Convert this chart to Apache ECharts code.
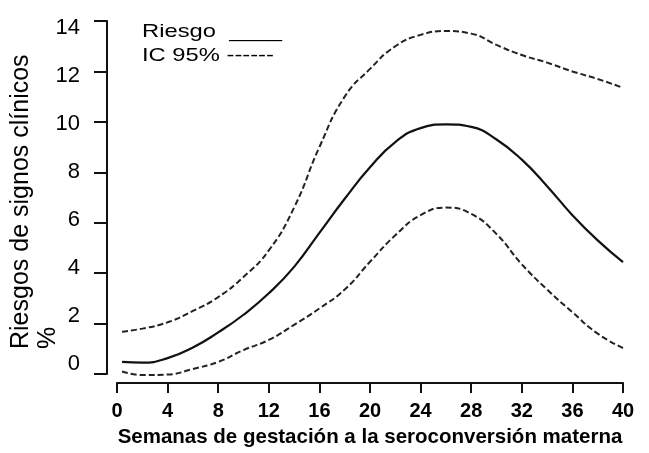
<!DOCTYPE html>
<html>
<head>
<meta charset="utf-8">
<script src="https://cdn.jsdelivr.net/npm/echarts@6/dist/echarts.min.js"></script>
<style>
html,body{margin:0;padding:0;background:#fff;}
#chart{width:649px;height:453px;}
</style>
</head>
<body>
<div id="chart"></div>
<script>
// Weeks of gestation at maternal seroconversion
const weeks = [0.4, 2, 4, 6, 8, 10, 12, 14, 16, 18, 20, 22, 24, 26, 28, 30, 32, 34, 36, 38, 40];
// Risk of clinical signs (%)
const riesgo = [0.48, 0.45, 0.63, 1.05, 1.65, 2.35, 3.2, 4.25, 5.6, 6.95, 8.2, 9.2, 9.75, 9.9, 9.8, 9.3, 8.5, 7.45, 6.3, 5.3, 4.44];
// 95% CI upper bound
const icSup = [1.68, 1.8, 2.05, 2.5, 3.05, 3.85, 4.9, 6.6, 9.0, 11.0, 12.1, 13.0, 13.45, 13.6, 13.5, 13.05, 12.65, 12.35, 12.0, 11.7, 11.35];
// 95% CI lower bound
const icInf = [0.1, -0.04, -0.02, 0.2, 0.48, 0.95, 1.35, 1.95, 2.6, 3.35, 4.45, 5.5, 6.3, 6.6, 6.35, 5.55, 4.35, 3.35, 2.45, 1.6, 1.03];
// Tick labels
const yTickLabels = [0, 2, 4, 6, 8, 10, 12, 14];
const xTickLabels = [0, 4, 8, 12, 16, 20, 24, 28, 32, 36, 40];

const FONT = '"Liberation Sans", Arial, sans-serif';
const chart = echarts.init(document.getElementById('chart'), null, {renderer: 'canvas'});

const pairs = arr => weeks.map((w, i) => [w, arr[i]]);

chart.setOption({
  animation: false,
  backgroundColor: '#fff',
  grid: {left: 117, right: 26, top: 21, bottom: 79, containLabel: false, outerBoundsMode: 'none'},
  xAxis: {
    type: 'value', min: 0, max: 40, interval: 4,
    offset: 9,
    axisLine: {show: true, onZero: false, lineStyle: {color: '#111', width: 2}},
    axisTick: {show: true, length: 10, lineStyle: {color: '#111', width: 2}},
    splitLine: {show: false},
    axisLabel: {
      color: '#000', fontFamily: FONT, fontWeight: 'bold', fontSize: 20, margin: 18,
      customValues: xTickLabels
    },
    name: 'Semanas de gestación a la seroconversión materna',
    nameLocation: 'middle', nameGap: 44,
    nameTextStyle: {color: '#000', fontFamily: FONT, fontWeight: 'bold', fontSize: 20.5}
  },
  yAxis: [{
    type: 'value', min: 0, max: 14, interval: 2,
    position: 'left', offset: 10,
    axisLine: {show: true, onZero: false, lineStyle: {color: '#111', width: 2}},
    axisTick: {show: true, length: 13, lineStyle: {color: '#111', width: 2}},
    splitLine: {show: false},
    axisLabel: {show: false}
  }, {
    // label-only axis (labels in the original sit slightly off the ticks)
    type: 'value', min: -0.4167, max: 14.2917,
    position: 'left', offset: 10,
    axisLine: {show: false, onZero: false}, axisTick: {show: false}, splitLine: {show: false},
    axisLabel: {
      color: '#000', fontFamily: FONT, fontSize: 22, margin: 27,
      customValues: yTickLabels
    }
  }],
  graphic: [
    {
      type: 'text', x: 8, y: 349, rotation: Math.PI / 2,
      style: {
        text: 'Riesgos de signos clínicos\n%',
        font: '25px ' + FONT, fill: '#000',
        textAlign: 'left', textVerticalAlign: 'top', lineHeight: 27
      }
    },
    {
      type: 'text', x: 142, y: 32, scaleX: 1.25,
      style: {
        text: 'Riesgo  ____', font: '19px ' + FONT, fill: '#000',
        textAlign: 'left', textVerticalAlign: 'middle'
      }
    },
    {
      type: 'text', x: 142, y: 56, scaleX: 1.25,
      style: {
        text: 'IC 95% ------', font: '19px ' + FONT, fill: '#000',
        textAlign: 'left', textVerticalAlign: 'middle'
      }
    }
  ],
  series: [
    {
      name: 'Riesgo', type: 'line', data: pairs(riesgo), smooth: 0.5,
      symbol: 'none', clip: false, lineStyle: {color: '#111', width: 2.2, type: 'solid'}
    },
    {
      name: 'IC 95% sup', type: 'line', data: pairs(icSup), smooth: 0.5,
      symbol: 'none', clip: false, lineStyle: {color: '#222', width: 2, type: [6, 3]}
    },
    {
      name: 'IC 95% inf', type: 'line', data: pairs(icInf), smooth: 0.5,
      symbol: 'none', clip: false, lineStyle: {color: '#222', width: 2, type: [6, 3]}
    }
  ]
});
</script>
</body>
</html>
